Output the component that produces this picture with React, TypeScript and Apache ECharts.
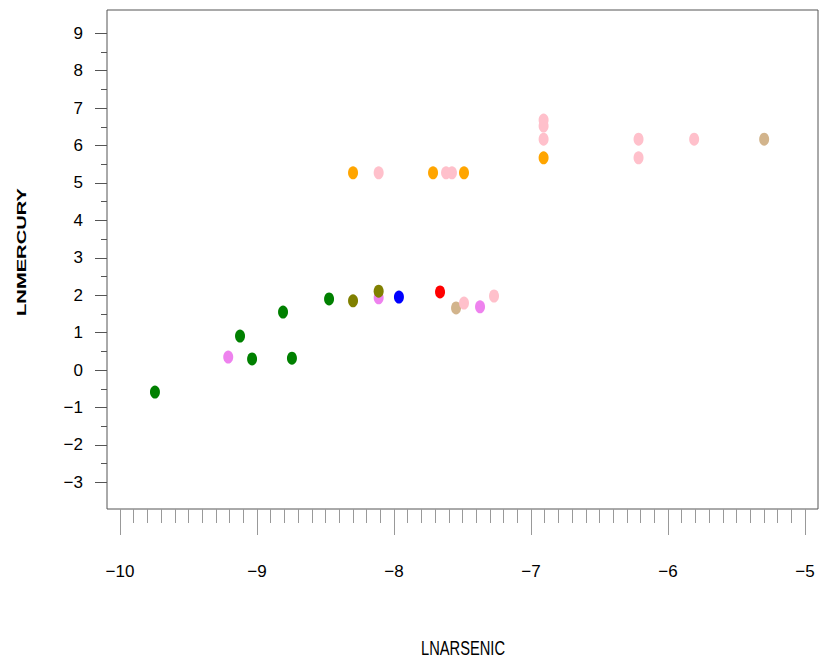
import React, { useEffect, useRef } from "react";
import * as echarts from "echarts";

// ---- data ----
const xMajorTicks = [-10, -9, -8, -7, -6, -5];
const yMajorTicks = [-3, -2, -1, 0, 1, 2, 3, 4, 5, 6, 7, 8, 9];

const greenPts = [
  [-9.745, -0.585],
  [-9.124, 0.91],
  [-9.036, 0.3],
  [-8.81, 1.55],
  [-8.745, 0.32],
  [-8.474, 1.9],
];
const violetPts = [
  [-9.21, 0.35],
  [-8.112, 1.93],
  [-7.372, 1.69],
];
const olivePts = [
  [-8.299, 1.85],
  [-8.112, 2.11],
];
const bluePts = [[-7.964, 1.95]];
const redPts = [[-7.664, 2.09]];
const tanPts = [
  [-7.547, 1.66],
  [-5.298, 6.17],
];
const pinkPts = [
  [-7.489, 1.79],
  [-7.27, 1.98],
  [-8.112, 5.27],
  [-7.62, 5.27],
  [-7.577, 5.27],
  [-6.908, 6.68],
  [-6.908, 6.52],
  [-6.908, 6.17],
  [-6.215, 6.17],
  [-6.215, 5.67],
  [-5.809, 6.17],
];
const orangePts = [
  [-8.299, 5.27],
  [-7.715, 5.27],
  [-7.489, 5.27],
  [-6.908, 5.67],
];

const groups = [
  { name: "green", color: "#008000", data: greenPts },
  { name: "violet", color: "#EE82EE", data: violetPts },
  { name: "olive", color: "#808000", data: olivePts },
  { name: "blue", color: "#0000FF", data: bluePts },
  { name: "red", color: "#FF0000", data: redPts },
  { name: "tan", color: "#D2B48C", data: tanPts },
  { name: "pink", color: "#FFC0CB", data: pinkPts },
  { name: "orange", color: "#FFA500", data: orangePts },
];

const X_MIN = -10.095;
const X_MAX = -4.905;
const Y_MIN = -3.71;
const Y_MAX = 9.62;

function minorBetween(majors: number[], steps: number): number[] {
  const out: number[] = [];
  for (let i = 0; i < majors.length - 1; i++) {
    const a = majors[i];
    const b = majors[i + 1];
    for (let k = 1; k < steps; k++) {
      out.push(Math.round((a + ((b - a) * k) / steps) * 1000) / 1000);
    }
  }
  return out;
}

const fmt = (v: number) => String(v).replace("-", "\u2212");

export default function App() {
  const ref = useRef<HTMLDivElement>(null);
  useEffect(() => {
    if (!ref.current) return;
    const chart = echarts.init(ref.current, undefined, { renderer: "svg" });
    const xMinor = minorBetween(xMajorTicks, 10);
    const yMinor = minorBetween(yMajorTicks, 2);
    const font = "'Liberation Sans', Arial, sans-serif";
    const hiddenLine = { show: false, onZero: false };
    chart.setOption({
      animation: false,
      backgroundColor: "#ffffff",
      grid: {
        left: 107,
        right: 12,
        top: 10,
        bottom: 152,
        show: true,
        borderColor: "#555555",
        borderWidth: 1,
        backgroundColor: "transparent",
      },
      xAxis: [
        {
          type: "value",
          min: X_MIN,
          max: X_MAX,
          position: "bottom",
          axisLine: hiddenLine,
          splitLine: { show: false },
          axisTick: {
            show: true,
            customValues: xMajorTicks,
            length: 26,
            lineStyle: { color: "#999999", width: 1 },
          },
          axisLabel: {
            show: true,
            customValues: xMajorTicks,
            margin: 54,
            formatter: fmt,
            color: "#000000",
            fontSize: 17,
            fontFamily: font,
          },
        },
        {
          type: "value",
          min: X_MIN,
          max: X_MAX,
          position: "bottom",
          axisLine: hiddenLine,
          splitLine: { show: false },
          axisTick: {
            show: true,
            customValues: xMinor,
            length: 14,
            lineStyle: { color: "#999999", width: 1 },
          },
          axisLabel: { show: false },
        },
      ],
      yAxis: [
        {
          type: "value",
          min: Y_MIN,
          max: Y_MAX,
          position: "left",
          axisLine: hiddenLine,
          splitLine: { show: false },
          axisTick: {
            show: true,
            customValues: yMajorTicks,
            length: 12,
            lineStyle: { color: "#555555", width: 1 },
          },
          axisLabel: {
            show: true,
            customValues: yMajorTicks,
            margin: 24,
            formatter: fmt,
            color: "#000000",
            fontSize: 17,
            fontFamily: font,
          },
        },
        {
          type: "value",
          min: Y_MIN,
          max: Y_MAX,
          position: "left",
          axisLine: hiddenLine,
          splitLine: { show: false },
          axisTick: {
            show: true,
            customValues: yMinor,
            length: 6,
            lineStyle: { color: "#555555", width: 1 },
          },
          axisLabel: { show: false },
        },
      ],
      graphic: [
        {
          type: "text",
          x: 463,
          y: 648,
          scaleX: 0.7,
          style: {
            text: "LNARSENIC",
            fontSize: 21,
            fontFamily: font,
            fill: "#000000",
            textAlign: "center",
            textVerticalAlign: "middle",
          },
        },
        {
          type: "text",
          x: 22,
          y: 252,
          rotation: Math.PI / 2,
          scaleX: 1.55,
          style: {
            text: "LNMERCURY",
            fontSize: 13,
            fontWeight: "bold",
            fontFamily: font,
            fill: "#000000",
            textAlign: "center",
            textVerticalAlign: "middle",
          },
        },
      ],
      series: groups.map((g) => ({
        name: g.name,
        type: "scatter",
        xAxisIndex: 0,
        yAxisIndex: 0,
        symbol: "circle",
        symbolSize: [10, 13],
        itemStyle: { color: g.color, opacity: 1 },
        data: g.data,
      })),
    });
    return () => chart.dispose();
  }, []);
  return (
    <div
      ref={ref}
      style={{ position: "fixed", left: 0, top: 0, width: 830, height: 661 }}
    />
  );
}
